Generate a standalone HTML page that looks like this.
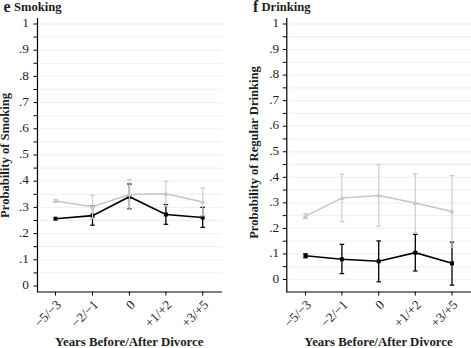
<!DOCTYPE html>
<html><head><meta charset="utf-8"><style>
html,body{margin:0;padding:0;background:#fff;}
svg{display:block;}
text{font-family:"Liberation Serif",serif;fill:#1e1e1e;}
</style></head><body>
<svg width="471" height="348" viewBox="0 0 471 348">
<rect width="471" height="348" fill="#fff"/>
<line x1="39.5" y1="272.90" x2="222" y2="272.90" stroke="#ebf5f5" stroke-width="1.3"/>
<line x1="39.5" y1="259.80" x2="222" y2="259.80" stroke="#ebf5f5" stroke-width="1.3"/>
<line x1="39.5" y1="246.70" x2="222" y2="246.70" stroke="#ebf5f5" stroke-width="1.3"/>
<line x1="39.5" y1="233.60" x2="222" y2="233.60" stroke="#ebf5f5" stroke-width="1.3"/>
<line x1="39.5" y1="220.50" x2="222" y2="220.50" stroke="#ebf5f5" stroke-width="1.3"/>
<line x1="39.5" y1="207.40" x2="222" y2="207.40" stroke="#ebf5f5" stroke-width="1.3"/>
<line x1="39.5" y1="194.30" x2="222" y2="194.30" stroke="#ebf5f5" stroke-width="1.3"/>
<line x1="39.5" y1="181.20" x2="222" y2="181.20" stroke="#ebf5f5" stroke-width="1.3"/>
<line x1="39.5" y1="168.10" x2="222" y2="168.10" stroke="#ebf5f5" stroke-width="1.3"/>
<line x1="39.5" y1="155.00" x2="222" y2="155.00" stroke="#ebf5f5" stroke-width="1.3"/>
<line x1="39.5" y1="141.90" x2="222" y2="141.90" stroke="#ebf5f5" stroke-width="1.3"/>
<line x1="39.5" y1="128.80" x2="222" y2="128.80" stroke="#ebf5f5" stroke-width="1.3"/>
<line x1="39.5" y1="115.70" x2="222" y2="115.70" stroke="#ebf5f5" stroke-width="1.3"/>
<line x1="39.5" y1="102.60" x2="222" y2="102.60" stroke="#ebf5f5" stroke-width="1.3"/>
<line x1="39.5" y1="89.50" x2="222" y2="89.50" stroke="#ebf5f5" stroke-width="1.3"/>
<line x1="39.5" y1="76.40" x2="222" y2="76.40" stroke="#ebf5f5" stroke-width="1.3"/>
<line x1="39.5" y1="63.30" x2="222" y2="63.30" stroke="#ebf5f5" stroke-width="1.3"/>
<line x1="39.5" y1="50.20" x2="222" y2="50.20" stroke="#ebf5f5" stroke-width="1.3"/>
<line x1="39.5" y1="37.10" x2="222" y2="37.10" stroke="#ebf5f5" stroke-width="1.3"/>
<line x1="39.5" y1="24.00" x2="222" y2="24.00" stroke="#ebf5f5" stroke-width="1.3"/>
<line x1="33.5" y1="286.00" x2="37.5" y2="286.00" stroke="#000" stroke-width="1"/>
<line x1="33.5" y1="272.90" x2="37.5" y2="272.90" stroke="#000" stroke-width="1"/>
<line x1="33.5" y1="259.80" x2="37.5" y2="259.80" stroke="#000" stroke-width="1"/>
<line x1="33.5" y1="246.70" x2="37.5" y2="246.70" stroke="#000" stroke-width="1"/>
<line x1="33.5" y1="233.60" x2="37.5" y2="233.60" stroke="#000" stroke-width="1"/>
<line x1="33.5" y1="220.50" x2="37.5" y2="220.50" stroke="#000" stroke-width="1"/>
<line x1="33.5" y1="207.40" x2="37.5" y2="207.40" stroke="#000" stroke-width="1"/>
<line x1="33.5" y1="194.30" x2="37.5" y2="194.30" stroke="#000" stroke-width="1"/>
<line x1="33.5" y1="181.20" x2="37.5" y2="181.20" stroke="#000" stroke-width="1"/>
<line x1="33.5" y1="168.10" x2="37.5" y2="168.10" stroke="#000" stroke-width="1"/>
<line x1="33.5" y1="155.00" x2="37.5" y2="155.00" stroke="#000" stroke-width="1"/>
<line x1="33.5" y1="141.90" x2="37.5" y2="141.90" stroke="#000" stroke-width="1"/>
<line x1="33.5" y1="128.80" x2="37.5" y2="128.80" stroke="#000" stroke-width="1"/>
<line x1="33.5" y1="115.70" x2="37.5" y2="115.70" stroke="#000" stroke-width="1"/>
<line x1="33.5" y1="102.60" x2="37.5" y2="102.60" stroke="#000" stroke-width="1"/>
<line x1="33.5" y1="89.50" x2="37.5" y2="89.50" stroke="#000" stroke-width="1"/>
<line x1="33.5" y1="76.40" x2="37.5" y2="76.40" stroke="#000" stroke-width="1"/>
<line x1="33.5" y1="63.30" x2="37.5" y2="63.30" stroke="#000" stroke-width="1"/>
<line x1="33.5" y1="50.20" x2="37.5" y2="50.20" stroke="#000" stroke-width="1"/>
<line x1="33.5" y1="37.10" x2="37.5" y2="37.10" stroke="#000" stroke-width="1"/>
<line x1="33.5" y1="24.00" x2="37.5" y2="24.00" stroke="#000" stroke-width="1"/>
<text x="28.9" y="289.20" text-anchor="end" font-size="13.3">0</text>
<text x="28.9" y="263.00" text-anchor="end" font-size="13.3">.1</text>
<text x="28.9" y="236.80" text-anchor="end" font-size="13.3">.2</text>
<text x="28.9" y="210.60" text-anchor="end" font-size="13.3">.3</text>
<text x="28.9" y="184.40" text-anchor="end" font-size="13.3">.4</text>
<text x="28.9" y="158.20" text-anchor="end" font-size="13.3">.5</text>
<text x="28.9" y="132.00" text-anchor="end" font-size="13.3">.6</text>
<text x="28.9" y="105.80" text-anchor="end" font-size="13.3">.7</text>
<text x="28.9" y="79.60" text-anchor="end" font-size="13.3">.8</text>
<text x="28.9" y="53.40" text-anchor="end" font-size="13.3">.9</text>
<text x="28.9" y="27.20" text-anchor="end" font-size="13.3">1</text>
<line x1="37.5" y1="18" x2="37.5" y2="292" stroke="#000" stroke-width="1.2"/>
<line x1="36.9" y1="292" x2="222" y2="292" stroke="#000" stroke-width="1.2"/>
<line x1="55.5" y1="291.5" x2="55.5" y2="295.5" stroke="#000" stroke-width="1"/>
<text x="62.0" y="305.5" text-anchor="end" font-size="13.2" transform="rotate(-45 62.0 305.5)">−5/−3</text>
<line x1="92.5" y1="291.5" x2="92.5" y2="295.5" stroke="#000" stroke-width="1"/>
<text x="99.0" y="305.5" text-anchor="end" font-size="13.2" transform="rotate(-45 99.0 305.5)">−2/−1</text>
<line x1="129.4" y1="291.5" x2="129.4" y2="295.5" stroke="#000" stroke-width="1"/>
<text x="135.9" y="305.5" text-anchor="end" font-size="13.2" transform="rotate(-45 135.9 305.5)">0</text>
<line x1="165.9" y1="291.5" x2="165.9" y2="295.5" stroke="#000" stroke-width="1"/>
<text x="172.4" y="305.5" text-anchor="end" font-size="13.2" transform="rotate(-45 172.4 305.5)">+1/+2</text>
<line x1="202.7" y1="291.5" x2="202.7" y2="295.5" stroke="#000" stroke-width="1"/>
<text x="209.2" y="305.5" text-anchor="end" font-size="13.2" transform="rotate(-45 209.2 305.5)">+3/+5</text>
<line x1="92.5" y1="206" x2="92.5" y2="225.2" stroke="#000" stroke-width="1.3"/>
<line x1="90.2" y1="206" x2="94.8" y2="206" stroke="#000" stroke-width="1.2"/>
<line x1="90.2" y1="225.2" x2="94.8" y2="225.2" stroke="#000" stroke-width="1.2"/>
<line x1="129.4" y1="184" x2="129.4" y2="209" stroke="#000" stroke-width="1.3"/>
<line x1="127.10000000000001" y1="184" x2="131.70000000000002" y2="184" stroke="#000" stroke-width="1.2"/>
<line x1="127.10000000000001" y1="209" x2="131.70000000000002" y2="209" stroke="#000" stroke-width="1.2"/>
<line x1="165.9" y1="204.5" x2="165.9" y2="224.3" stroke="#000" stroke-width="1.3"/>
<line x1="163.6" y1="204.5" x2="168.20000000000002" y2="204.5" stroke="#000" stroke-width="1.2"/>
<line x1="163.6" y1="224.3" x2="168.20000000000002" y2="224.3" stroke="#000" stroke-width="1.2"/>
<line x1="202.7" y1="207.3" x2="202.7" y2="227.4" stroke="#000" stroke-width="1.3"/>
<line x1="200.39999999999998" y1="207.3" x2="205.0" y2="207.3" stroke="#000" stroke-width="1.2"/>
<line x1="200.39999999999998" y1="227.4" x2="205.0" y2="227.4" stroke="#000" stroke-width="1.2"/>
<polyline points="55.5,218.7 92.5,215.6 129.4,196.7 165.9,214.5 202.7,217.5" fill="none" stroke="#000" stroke-width="1.6"/>
<rect x="53.5" y="216.7" width="4" height="4" fill="#000"/>
<rect x="90.5" y="213.6" width="4" height="4" fill="#000"/>
<rect x="127.4" y="194.7" width="4" height="4" fill="#000"/>
<rect x="163.9" y="212.5" width="4" height="4" fill="#000"/>
<rect x="200.7" y="215.5" width="4" height="4" fill="#000"/>
<line x1="55.5" y1="199.6" x2="55.5" y2="202.4" stroke="#cacaca" stroke-width="1.1"/>
<line x1="53.2" y1="199.6" x2="57.8" y2="199.6" stroke="#cacaca" stroke-width="1.2"/>
<line x1="53.2" y1="202.4" x2="57.8" y2="202.4" stroke="#cacaca" stroke-width="1.2"/>
<line x1="92.5" y1="195.3" x2="92.5" y2="218.3" stroke="#cacaca" stroke-width="1.1"/>
<line x1="90.2" y1="195.3" x2="94.8" y2="195.3" stroke="#cacaca" stroke-width="1.2"/>
<line x1="90.2" y1="218.3" x2="94.8" y2="218.3" stroke="#cacaca" stroke-width="1.2"/>
<line x1="129.4" y1="179.5" x2="129.4" y2="209.7" stroke="#cacaca" stroke-width="1.1"/>
<line x1="127.10000000000001" y1="179.5" x2="131.70000000000002" y2="179.5" stroke="#cacaca" stroke-width="1.2"/>
<line x1="127.10000000000001" y1="209.7" x2="131.70000000000002" y2="209.7" stroke="#cacaca" stroke-width="1.2"/>
<line x1="165.9" y1="181.2" x2="165.9" y2="206.2" stroke="#cacaca" stroke-width="1.1"/>
<line x1="163.6" y1="181.2" x2="168.20000000000002" y2="181.2" stroke="#cacaca" stroke-width="1.2"/>
<line x1="163.6" y1="206.2" x2="168.20000000000002" y2="206.2" stroke="#cacaca" stroke-width="1.2"/>
<line x1="202.7" y1="188.2" x2="202.7" y2="215.8" stroke="#cacaca" stroke-width="1.1"/>
<line x1="200.39999999999998" y1="188.2" x2="205.0" y2="188.2" stroke="#cacaca" stroke-width="1.2"/>
<line x1="200.39999999999998" y1="215.8" x2="205.0" y2="215.8" stroke="#cacaca" stroke-width="1.2"/>
<polyline points="55.5,201 92.5,206.8 129.4,194.6 165.9,193.8 202.7,202" fill="none" stroke="#c6c6c6" stroke-width="1.5"/>
<path d="M52.9,202.8 L55.5,198.6 L58.1,202.8 Z" fill="#c6c6c6"/>
<path d="M89.9,208.60000000000002 L92.5,204.4 L95.1,208.60000000000002 Z" fill="#c6c6c6"/>
<path d="M126.80000000000001,196.4 L129.4,192.2 L132.0,196.4 Z" fill="#c6c6c6"/>
<path d="M163.3,195.60000000000002 L165.9,191.4 L168.5,195.60000000000002 Z" fill="#c6c6c6"/>
<path d="M200.1,203.8 L202.7,199.6 L205.29999999999998,203.8 Z" fill="#c6c6c6"/>
<text x="0" y="0" text-anchor="middle" font-size="12.6" font-weight="bold" transform="translate(9 155.4) rotate(-90)">Probability of Smoking</text>
<text x="3.5" y="11.8" font-size="16" font-weight="bold">e</text>
<text x="14" y="11.3" font-size="12.6" font-weight="bold">Smoking</text>
<text x="129.3" y="345.5" text-anchor="middle" font-size="12.85" font-weight="bold">Years Before/After Divorce</text>
<line x1="288.8" y1="279.50" x2="471" y2="279.50" stroke="#ebf5f5" stroke-width="1.3"/>
<line x1="288.8" y1="266.73" x2="471" y2="266.73" stroke="#ebf5f5" stroke-width="1.3"/>
<line x1="288.8" y1="253.95" x2="471" y2="253.95" stroke="#ebf5f5" stroke-width="1.3"/>
<line x1="288.8" y1="241.18" x2="471" y2="241.18" stroke="#ebf5f5" stroke-width="1.3"/>
<line x1="288.8" y1="228.40" x2="471" y2="228.40" stroke="#ebf5f5" stroke-width="1.3"/>
<line x1="288.8" y1="215.62" x2="471" y2="215.62" stroke="#ebf5f5" stroke-width="1.3"/>
<line x1="288.8" y1="202.85" x2="471" y2="202.85" stroke="#ebf5f5" stroke-width="1.3"/>
<line x1="288.8" y1="190.07" x2="471" y2="190.07" stroke="#ebf5f5" stroke-width="1.3"/>
<line x1="288.8" y1="177.30" x2="471" y2="177.30" stroke="#ebf5f5" stroke-width="1.3"/>
<line x1="288.8" y1="164.52" x2="471" y2="164.52" stroke="#ebf5f5" stroke-width="1.3"/>
<line x1="288.8" y1="151.75" x2="471" y2="151.75" stroke="#ebf5f5" stroke-width="1.3"/>
<line x1="288.8" y1="138.97" x2="471" y2="138.97" stroke="#ebf5f5" stroke-width="1.3"/>
<line x1="288.8" y1="126.20" x2="471" y2="126.20" stroke="#ebf5f5" stroke-width="1.3"/>
<line x1="288.8" y1="113.42" x2="471" y2="113.42" stroke="#ebf5f5" stroke-width="1.3"/>
<line x1="288.8" y1="100.65" x2="471" y2="100.65" stroke="#ebf5f5" stroke-width="1.3"/>
<line x1="288.8" y1="87.88" x2="471" y2="87.88" stroke="#ebf5f5" stroke-width="1.3"/>
<line x1="288.8" y1="75.10" x2="471" y2="75.10" stroke="#ebf5f5" stroke-width="1.3"/>
<line x1="288.8" y1="62.32" x2="471" y2="62.32" stroke="#ebf5f5" stroke-width="1.3"/>
<line x1="288.8" y1="49.55" x2="471" y2="49.55" stroke="#ebf5f5" stroke-width="1.3"/>
<line x1="288.8" y1="36.77" x2="471" y2="36.77" stroke="#ebf5f5" stroke-width="1.3"/>
<line x1="288.8" y1="24.00" x2="471" y2="24.00" stroke="#ebf5f5" stroke-width="1.3"/>
<line x1="282.8" y1="279.50" x2="286.8" y2="279.50" stroke="#000" stroke-width="1"/>
<line x1="282.8" y1="266.73" x2="286.8" y2="266.73" stroke="#000" stroke-width="1"/>
<line x1="282.8" y1="253.95" x2="286.8" y2="253.95" stroke="#000" stroke-width="1"/>
<line x1="282.8" y1="241.18" x2="286.8" y2="241.18" stroke="#000" stroke-width="1"/>
<line x1="282.8" y1="228.40" x2="286.8" y2="228.40" stroke="#000" stroke-width="1"/>
<line x1="282.8" y1="215.62" x2="286.8" y2="215.62" stroke="#000" stroke-width="1"/>
<line x1="282.8" y1="202.85" x2="286.8" y2="202.85" stroke="#000" stroke-width="1"/>
<line x1="282.8" y1="190.07" x2="286.8" y2="190.07" stroke="#000" stroke-width="1"/>
<line x1="282.8" y1="177.30" x2="286.8" y2="177.30" stroke="#000" stroke-width="1"/>
<line x1="282.8" y1="164.52" x2="286.8" y2="164.52" stroke="#000" stroke-width="1"/>
<line x1="282.8" y1="151.75" x2="286.8" y2="151.75" stroke="#000" stroke-width="1"/>
<line x1="282.8" y1="138.97" x2="286.8" y2="138.97" stroke="#000" stroke-width="1"/>
<line x1="282.8" y1="126.20" x2="286.8" y2="126.20" stroke="#000" stroke-width="1"/>
<line x1="282.8" y1="113.42" x2="286.8" y2="113.42" stroke="#000" stroke-width="1"/>
<line x1="282.8" y1="100.65" x2="286.8" y2="100.65" stroke="#000" stroke-width="1"/>
<line x1="282.8" y1="87.88" x2="286.8" y2="87.88" stroke="#000" stroke-width="1"/>
<line x1="282.8" y1="75.10" x2="286.8" y2="75.10" stroke="#000" stroke-width="1"/>
<line x1="282.8" y1="62.32" x2="286.8" y2="62.32" stroke="#000" stroke-width="1"/>
<line x1="282.8" y1="49.55" x2="286.8" y2="49.55" stroke="#000" stroke-width="1"/>
<line x1="282.8" y1="36.77" x2="286.8" y2="36.77" stroke="#000" stroke-width="1"/>
<line x1="282.8" y1="24.00" x2="286.8" y2="24.00" stroke="#000" stroke-width="1"/>
<text x="279.2" y="282.70" text-anchor="end" font-size="13.3">0</text>
<text x="279.2" y="257.15" text-anchor="end" font-size="13.3">.1</text>
<text x="279.2" y="231.60" text-anchor="end" font-size="13.3">.2</text>
<text x="279.2" y="206.05" text-anchor="end" font-size="13.3">.3</text>
<text x="279.2" y="180.50" text-anchor="end" font-size="13.3">.4</text>
<text x="279.2" y="154.95" text-anchor="end" font-size="13.3">.5</text>
<text x="279.2" y="129.40" text-anchor="end" font-size="13.3">.6</text>
<text x="279.2" y="103.85" text-anchor="end" font-size="13.3">.7</text>
<text x="279.2" y="78.30" text-anchor="end" font-size="13.3">.8</text>
<text x="279.2" y="52.75" text-anchor="end" font-size="13.3">.9</text>
<text x="279.2" y="27.20" text-anchor="end" font-size="13.3">1</text>
<line x1="286.8" y1="18" x2="286.8" y2="292" stroke="#000" stroke-width="1.2"/>
<line x1="286.2" y1="292" x2="471" y2="292" stroke="#000" stroke-width="1.2"/>
<line x1="305.5" y1="291.5" x2="305.5" y2="295.5" stroke="#000" stroke-width="1"/>
<text x="312.0" y="305.5" text-anchor="end" font-size="13.2" transform="rotate(-45 312.0 305.5)">−5/−3</text>
<line x1="341.9" y1="291.5" x2="341.9" y2="295.5" stroke="#000" stroke-width="1"/>
<text x="348.4" y="305.5" text-anchor="end" font-size="13.2" transform="rotate(-45 348.4 305.5)">−2/−1</text>
<line x1="378.7" y1="291.5" x2="378.7" y2="295.5" stroke="#000" stroke-width="1"/>
<text x="385.2" y="305.5" text-anchor="end" font-size="13.2" transform="rotate(-45 385.2 305.5)">0</text>
<line x1="415.3" y1="291.5" x2="415.3" y2="295.5" stroke="#000" stroke-width="1"/>
<text x="421.8" y="305.5" text-anchor="end" font-size="13.2" transform="rotate(-45 421.8 305.5)">+1/+2</text>
<line x1="452.0" y1="291.5" x2="452.0" y2="295.5" stroke="#000" stroke-width="1"/>
<text x="458.5" y="305.5" text-anchor="end" font-size="13.2" transform="rotate(-45 458.5 305.5)">+3/+5</text>
<line x1="305.5" y1="253.8" x2="305.5" y2="257.8" stroke="#000" stroke-width="1.3"/>
<line x1="303.2" y1="253.8" x2="307.8" y2="253.8" stroke="#000" stroke-width="1.2"/>
<line x1="303.2" y1="257.8" x2="307.8" y2="257.8" stroke="#000" stroke-width="1.2"/>
<line x1="341.9" y1="244.3" x2="341.9" y2="273.6" stroke="#000" stroke-width="1.3"/>
<line x1="339.59999999999997" y1="244.3" x2="344.2" y2="244.3" stroke="#000" stroke-width="1.2"/>
<line x1="339.59999999999997" y1="273.6" x2="344.2" y2="273.6" stroke="#000" stroke-width="1.2"/>
<line x1="378.7" y1="240.9" x2="378.7" y2="281.8" stroke="#000" stroke-width="1.3"/>
<line x1="376.4" y1="240.9" x2="381.0" y2="240.9" stroke="#000" stroke-width="1.2"/>
<line x1="376.4" y1="281.8" x2="381.0" y2="281.8" stroke="#000" stroke-width="1.2"/>
<line x1="415.3" y1="234.4" x2="415.3" y2="271" stroke="#000" stroke-width="1.3"/>
<line x1="413.0" y1="234.4" x2="417.6" y2="234.4" stroke="#000" stroke-width="1.2"/>
<line x1="413.0" y1="271" x2="417.6" y2="271" stroke="#000" stroke-width="1.2"/>
<line x1="452.0" y1="242.1" x2="452.0" y2="285.1" stroke="#000" stroke-width="1.3"/>
<line x1="449.7" y1="242.1" x2="454.3" y2="242.1" stroke="#000" stroke-width="1.2"/>
<line x1="449.7" y1="285.1" x2="454.3" y2="285.1" stroke="#000" stroke-width="1.2"/>
<polyline points="305.5,255.8 341.9,259.3 378.7,261.3 415.3,252.7 452.0,263.3" fill="none" stroke="#000" stroke-width="1.6"/>
<rect x="303.5" y="253.8" width="4" height="4" fill="#000"/>
<rect x="339.9" y="257.3" width="4" height="4" fill="#000"/>
<rect x="376.7" y="259.3" width="4" height="4" fill="#000"/>
<rect x="413.3" y="250.7" width="4" height="4" fill="#000"/>
<rect x="450.0" y="261.3" width="4" height="4" fill="#000"/>
<line x1="305.5" y1="213.6" x2="305.5" y2="218.6" stroke="#cacaca" stroke-width="1.1"/>
<line x1="303.2" y1="213.6" x2="307.8" y2="213.6" stroke="#cacaca" stroke-width="1.2"/>
<line x1="303.2" y1="218.6" x2="307.8" y2="218.6" stroke="#cacaca" stroke-width="1.2"/>
<line x1="341.9" y1="174.3" x2="341.9" y2="221.7" stroke="#cacaca" stroke-width="1.1"/>
<line x1="339.59999999999997" y1="174.3" x2="344.2" y2="174.3" stroke="#cacaca" stroke-width="1.2"/>
<line x1="339.59999999999997" y1="221.7" x2="344.2" y2="221.7" stroke="#cacaca" stroke-width="1.2"/>
<line x1="378.7" y1="164.5" x2="378.7" y2="226.2" stroke="#cacaca" stroke-width="1.1"/>
<line x1="376.4" y1="164.5" x2="381.0" y2="164.5" stroke="#cacaca" stroke-width="1.2"/>
<line x1="376.4" y1="226.2" x2="381.0" y2="226.2" stroke="#cacaca" stroke-width="1.2"/>
<line x1="415.3" y1="173.8" x2="415.3" y2="232.7" stroke="#cacaca" stroke-width="1.1"/>
<line x1="413.0" y1="173.8" x2="417.6" y2="173.8" stroke="#cacaca" stroke-width="1.2"/>
<line x1="413.0" y1="232.7" x2="417.6" y2="232.7" stroke="#cacaca" stroke-width="1.2"/>
<line x1="452.0" y1="175.5" x2="452.0" y2="247.3" stroke="#cacaca" stroke-width="1.1"/>
<line x1="449.7" y1="175.5" x2="454.3" y2="175.5" stroke="#cacaca" stroke-width="1.2"/>
<line x1="449.7" y1="247.3" x2="454.3" y2="247.3" stroke="#cacaca" stroke-width="1.2"/>
<polyline points="305.5,216.2 341.9,197.9 378.7,195.5 415.3,203.1 452.0,211.4" fill="none" stroke="#c6c6c6" stroke-width="1.5"/>
<path d="M302.9,218.0 L305.5,213.79999999999998 L308.1,218.0 Z" fill="#c6c6c6"/>
<path d="M339.29999999999995,199.70000000000002 L341.9,195.5 L344.5,199.70000000000002 Z" fill="#c6c6c6"/>
<path d="M376.09999999999997,197.3 L378.7,193.1 L381.3,197.3 Z" fill="#c6c6c6"/>
<path d="M412.7,204.9 L415.3,200.7 L417.90000000000003,204.9 Z" fill="#c6c6c6"/>
<path d="M449.4,213.20000000000002 L452.0,209.0 L454.6,213.20000000000002 Z" fill="#c6c6c6"/>
<text x="0" y="0" text-anchor="middle" font-size="12.6" font-weight="bold" transform="translate(257.6 152.5) rotate(-90)">Probability of Regular Drinking</text>
<text x="253" y="11.8" font-size="16" font-weight="bold">f</text>
<text x="261.5" y="11.3" font-size="12.6" font-weight="bold">Drinking</text>
<text x="378.5" y="345.5" text-anchor="middle" font-size="12.85" font-weight="bold">Years Before/After Divorce</text>
</svg>
</body></html>
